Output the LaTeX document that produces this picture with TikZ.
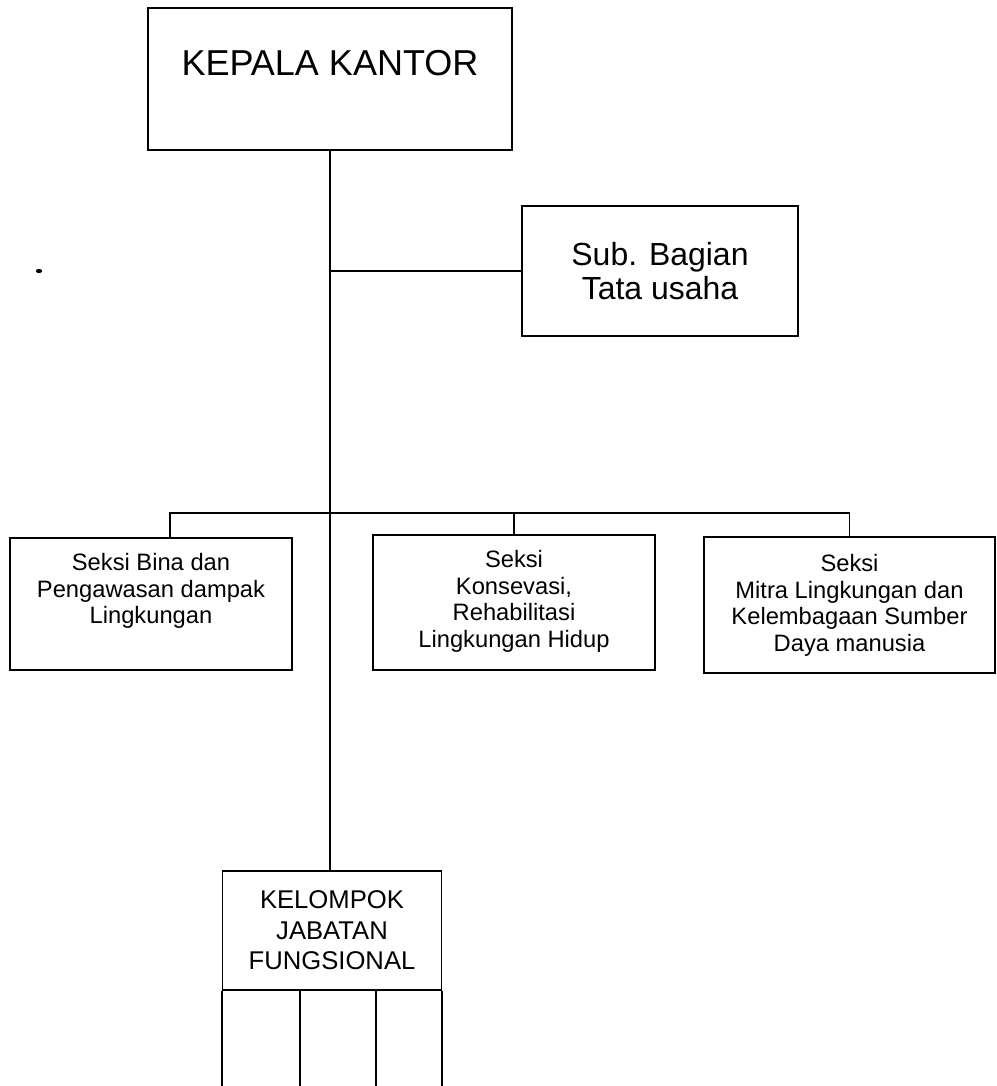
\documentclass[tikz,border=0pt]{standalone}
\usepackage{fontspec}
\setmainfont{Liberation Sans}
\usetikzlibrary{calc,positioning}
\tikzset{
	kotak/.style={draw, line width=0.9pt, inner sep=0pt},
	garis/.style={line width=0.9pt},
	teksseksi/.style={inner sep=0pt, align=center, font=\fontsize{13.5}{15.1}\selectfont}
}

\begin{document}
\begin{tikzpicture}[x=0.02cm, y=-0.02cm]
			%%%%% START %%%%%
			\useasboundingbox (0, 0) rectangle (997, 1086);
			
			\node[kotak, minimum width=7.28cm, text height=1.36cm, text depth=1.48cm, anchor=north, font=\fontsize{20.5}{24}\selectfont] (kepala) at (330, 7) {KEPALA KANTOR};
			
			\node[kotak, minimum width=5.52cm, minimum height=2.6cm, align=center, font=\fontsize{18.2}{19.3}\selectfont] (subbag) at (660, 271) {Sub. Bagian\\Tata usaha};
			
			\node[kotak, minimum width=5.64cm, minimum height=2.64cm] (bina) at (151, 604) {};
			\node[teksseksi, below=0.32cm of bina.north] (bina-t) {Seksi Bina dan\\Pengawasan dampak\\Lingkungan};
			
			\node[kotak, minimum width=5.64cm, minimum height=2.7cm] (konservasi) at (514, 602.5) {};
			\node[teksseksi, below=0.32cm of konservasi.north] (konservasi-t) {Seksi\\Konsevasi,\\Rehabilitasi\\Lingkungan Hidup};
			
			\node[kotak, minimum width=5.82cm, minimum height=2.72cm] (mitra) at (849.5, 605) {};
			\node[teksseksi, below=0.36cm of mitra.north] (mitra-t) {Seksi\\Mitra Lingkungan dan\\Kelembagaan Sumber\\Daya manusia};
			
			\node[kotak, minimum width=4.38cm, minimum height=2.38cm, align=center, font=\fontsize{14.6}{17.3}\selectfont] (kelompok) at (332, 930.5) {KELOMPOK\\JABATAN\\FUNGSIONAL};
			
			\coordinate (bus) at (170, 513);
			\coordinate (dasar) at (0, 1086);
			\coordinate (kolom1) at ($(kelompok.south west)!0.356!(kelompok.south east)$);
			\coordinate (kolom2) at ($(kelompok.south west)!0.7!(kelompok.south east)$);
			
			% garis komando
			\draw[garis] (kepala.south) -- (kepala.south |- kelompok.north);
			\draw[garis] (kepala.south |- subbag.west) -- (subbag.west);
			\draw[garis] (bus |- bina.north) -- (bus) -| (mitra.north);
			\draw[garis] (konservasi.north) -- (konservasi.north |- bus);
			
			% kolom di bawah kelompok
			\draw[garis] (kelompok.south west) -- (kelompok.south west |- dasar);
			\draw[garis] (kolom1) -- (kolom1 |- dasar);
			\draw[garis] (kolom2) -- (kolom2 |- dasar);
			\draw[garis] (kelompok.south east) -- (kelompok.south east |- dasar);
			
			\fill (39, 271) ellipse (1.8pt and 1.2pt);
			%%%%% END %%%%%
\end{tikzpicture}
\end{document}
